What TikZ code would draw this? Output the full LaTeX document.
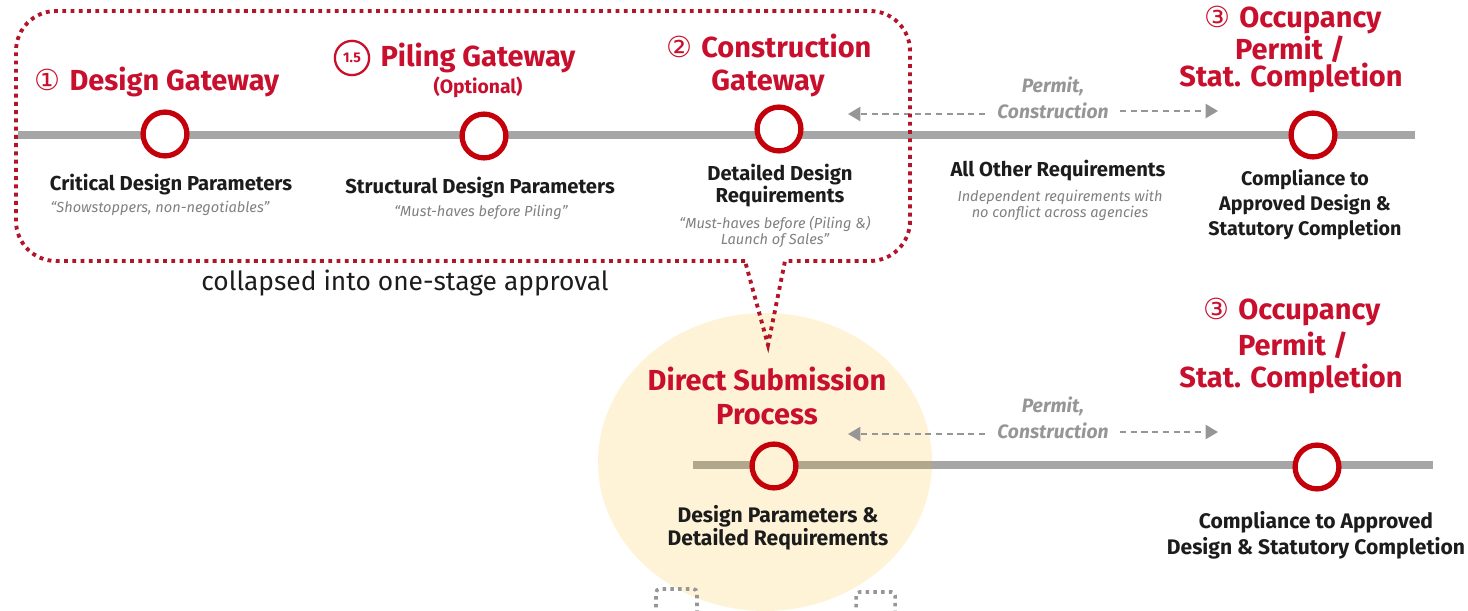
\documentclass[tikz,border=0pt]{standalone}
\usepackage{fontspec}
\setmainfont{Fira Sans}
\newfontfamily\symfont{DejaVu Sans}
\usetikzlibrary{arrows.meta}
\definecolor{tred}{RGB}{200,16,46}
\definecolor{cred}{RGB}{196,0,10}
\definecolor{dred}{RGB}{178,20,42}
\definecolor{lgray}{RGB}{166,166,166}
\definecolor{tgray}{RGB}{128,128,128}
\definecolor{agray}{RGB}{150,150,150}
\definecolor{tblack}{RGB}{28,28,28}
\definecolor{cyellow}{RGB}{254,243,215}
\definecolor{tan}{RGB}{176,167,140}
\tikzset{
  title/.style={text=tred,font=\bfseries\fontsize{16.5}{19}\selectfont,align=center,inner sep=0pt},
  sub/.style={text=tblack,font=\bfseries\fontsize{11.5}{12.5}\selectfont,align=center,inner sep=0pt},
  bsub/.style={text=tblack,font=\bfseries\fontsize{12}{11.5}\selectfont,align=center,inner sep=0pt},
  quote/.style={text=tgray,font=\itshape\fontsize{8.3}{9}\selectfont,align=center,inner sep=0pt},
  permit/.style={text=agray,font=\bfseries\itshape\fontsize{11}{14.5}\selectfont,align=center,inner sep=0pt},
  gate/.style={circle,draw=cred,line width=3pt,minimum size=44*0.5669pt,inner sep=0pt,fill=white},
  tline/.style={lgray,line width=4pt},
  darrow/.style={agray,line width=1.1pt,dash pattern=on 3.5pt off 2.6pt,-{Triangle[length=7pt,width=8pt]}},
  redbox/.style={dred,line width=2.2pt,dash pattern=on 2.2pt off 2.5pt},
  graybox/.style={agray,line width=2pt,dash pattern=on 2pt off 2.4pt,rounded corners=2pt}
}
\newcommand{\circnum}[1]{{\symfont\mdseries #1}\hspace{5pt}}
\begin{document}
\begin{tikzpicture}[x=0.02cm,y=0.02cm]
\useasboundingbox (0,0) rectangle (1468,610);
% yellow ellipse
\fill[cyellow] (765,148) ellipse[x radius=3.34cm,y radius=2.98cm];
% gray dotted boxes at bottom
\draw[graybox] (656,-5) -- (656,21) -- (697,21) -- (697,-5);
\draw[graybox] (856,-5) -- (856,18) -- (895,18) -- (895,-5);
% top timeline
\coordinate (tl) at (18,475);
\coordinate (tr) at (1415,475);
\draw[tline] (tl) -- (tr);
% bottom timeline
\coordinate (bl) at (693,145);
\coordinate (bm) at (932,145);
\coordinate (br) at (1433,145);
\draw[tline] (bm) -- (br);
\draw[tline,tan] (bl) -- (bm);
% gates
\node[gate] (g1) at (165,476) {};
\node[gate] (g2) at (484,474) {};
\node[gate] (g3) at (779,481) {};
\node[gate] (g4) at (1313,475) {};
\node[gate,fill=cyellow] (g5) at (774,144) {};
\node[gate] (g6) at (1317,143) {};
% titles
\node[title] (t1) at (157,528) {\circnum{①}Design Gateway};
\node[circle,draw=tred,line width=1.3pt,inner sep=0pt,minimum size=19.5pt,text=tred,font=\bfseries\fontsize{8}{9}\selectfont] (t15) at (352,552) {1.5};
\node[title] (t2) at (478,552) {Piling Gateway};
\node[title,font=\bfseries\fontsize{11}{12}\selectfont] (t2o) at (478,523) {(Optional)};
\node[title] (t3a) at (769,564) {\circnum{②}Construction};
\node[title] (t3b) at (768,527) {Gateway};
\node[title] (t4a) at (1293,590) {\circnum{③}Occupancy};
\node[title] (t4b) at (1290,561) {Permit /};
\node[title] (t4c) at (1291,532) {Stat. Completion};
% sub labels top
\node[sub] (s1) at (171,425) {Critical Design Parameters};
\node[quote] (q1) at (160,402) {“Showstoppers, non-negotiables”};
\node[sub] (s2) at (480,422) {Structural Design Parameters};
\node[quote] (q2) at (481,398) {“Must-haves before Piling”};
\node[sub] (s3) at (780,424) {Detailed Design\\Requirements};
\node[quote,font=\itshape\fontsize{8.3}{9.2}\selectfont] (q3) at (775,378) {“Must-haves before (Piling \&)\\Launch of Sales”};
\node[sub] (s4) at (1058,439) {All Other Requirements};
\node[quote] (q4) at (1060,405) {Independent requirements with\\no conflict across agencies};
\node[sub,font=\bfseries\fontsize{11.2}{14.2}\selectfont] (s5) at (1305,405) {Compliance to\\Approved Design \&\\Statutory Completion};
% permit arrows top
\node[permit] (p1) at (1053,512) {Permit,\\Construction};
\coordinate (p1l) at (985,496);
\coordinate (p1lt) at (848,496);
\coordinate (p1r) at (1120,499);
\coordinate (p1rt) at (1218,499);
\draw[darrow] (p1l) -- (p1lt);
\draw[darrow] (p1r) -- (p1rt);
% red dotted callout
\draw[redbox] (745,349) -- (56,349) arc(270:180:0.8cm) -- (16,559) arc(180:90:0.8cm) -- (870,599) arc(90:0:0.8cm) -- (910,389) arc(0:-90:0.8cm) -- (785,349) -- (768,265) -- cycle;
\node[text=tblack,font=\fontsize{15}{16}\selectfont,inner sep=0pt] (col) at (405,327) {collapsed into one-stage approval};
% bottom
\node[title] (d1) at (767,214) {Direct Submission\\Process};
\node[bsub] (d2) at (778,82) {Design Parameters \&\\Detailed Requirements};
\node[title] (o1) at (1292,298) {\circnum{③}Occupancy};
\node[title] (o2) at (1293,265) {Permit /};
\node[title] (o3) at (1291,231) {Stat. Completion};
\node[bsub,font=\bfseries\fontsize{12}{14.7}\selectfont] (o4) at (1316,75) {Compliance to Approved\\Design \& Statutory Completion};
\node[permit] (p2) at (1053,192) {Permit,\\Construction};
\coordinate (p2l) at (985,176);
\coordinate (p2lt) at (848,176);
\coordinate (p2r) at (1120,178);
\coordinate (p2rt) at (1218,178);
\draw[darrow] (p2l) -- (p2lt);
\draw[darrow] (p2r) -- (p2rt);
\end{tikzpicture}
\end{document}
